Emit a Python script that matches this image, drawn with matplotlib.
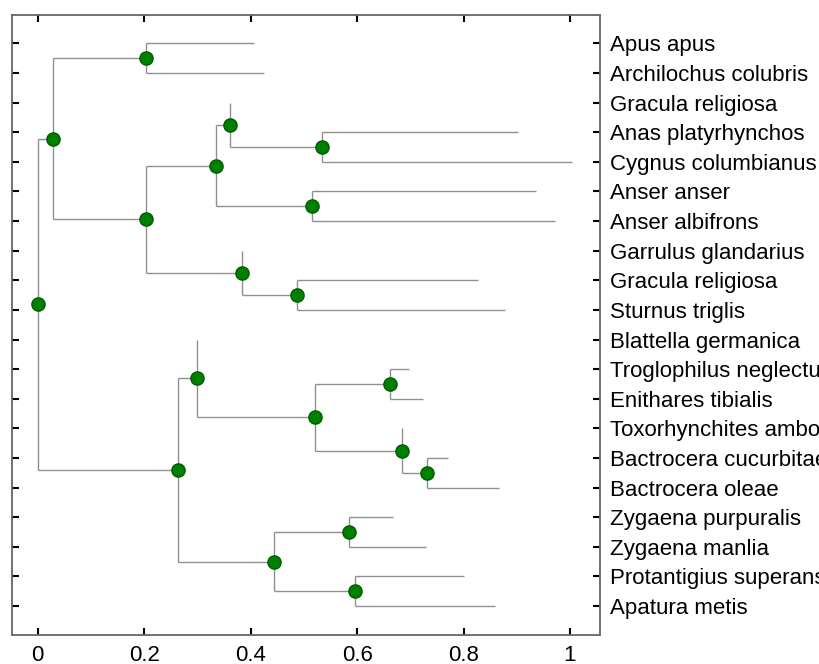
import matplotlib
matplotlib.use("Agg")
import matplotlib.pyplot as plt

plt.rcParams['font.family'] = ['Liberation Sans', 'DejaVu Sans']

# leaf names, top to bottom
labels = ["Apus apus", "Archilochus colubris", "Gracula religiosa",
          "Anas platyrhynchos", "Cygnus columbianus", "Anser anser",
          "Anser albifrons", "Garrulus glandarius", "Gracula religiosa",
          "Sturnus triglis", "Blattella germanica", "Troglophilus neglectus",
          "Enithares tibialis", "Toxorhynchites amboinensis",
          "Bactrocera cucurbitae", "Bactrocera oleae", "Zygaena purpuralis",
          "Zygaena manlia", "Protantigius superans", "Apatura metis"]

# distance at which each leaf branch ends
leaf_end = [0.406, 0.425, 0.362, 0.902, 1.004, 0.937, 0.972, 0.383, 0.828,
            0.878, 0.299, 0.698, 0.723, 0.685, 0.771, 0.867, 0.667, 0.729,
            0.800, 0.860]

# internal nodes (ids 20..38): height and the two children (leaf idx or node id)
node_height = [0.204, 0.534, 0.362, 0.516, 0.334, 0.488, 0.383, 0.204, 0.029,
               0.661, 0.731, 0.685, 0.520, 0.299, 0.585, 0.597, 0.443, 0.264,
               0.0]
node_left = [0, 3, 2, 5, 22, 8, 7, 24, 20, 11, 14, 13, 29, 10, 16, 18, 34, 33, 28]
node_right = [1, 4, 21, 6, 23, 9, 25, 26, 27, 12, 15, 30, 31, 32, 17, 19, 35, 36, 37]

n_leaf = len(labels)
xpos = {}
ypos = {}
for i in range(n_leaf):
    xpos[i] = leaf_end[i]
    ypos[i] = i + 1
for k in range(len(node_height)):
    nid = n_leaf + k
    xpos[nid] = node_height[k]
    ypos[nid] = (ypos[node_left[k]] + ypos[node_right[k]]) / 2.0

fig = plt.figure(figsize=(8.19, 6.64), dpi=100)
ax = fig.add_axes([0.0147, 0.0437, 0.7179, 0.9337])

line_kw = dict(color='#8f8f8f', lw=1.0, zorder=1, solid_capstyle='butt')
for k in range(len(node_height)):
    nid = n_leaf + k
    px = xpos[nid]
    a, b = node_left[k], node_right[k]
    # vertical connector
    ax.plot([px, px], [ypos[a], ypos[b]], **line_kw)
    # horizontal branches to the children
    for c in (a, b):
        ax.plot([px, xpos[c]], [ypos[c], ypos[c]], **line_kw)

# node markers
nx = [xpos[n_leaf + k] for k in range(len(node_height))]
ny = [ypos[n_leaf + k] for k in range(len(node_height))]
ax.plot(nx, ny, 'o', ms=9.5, mfc='#008000', mec='#005c00', mew=1.0, zorder=3,
        linestyle='none')

ax.set_xlim(-0.0483, 1.0564)
ax.set_ylim(20.98, 0.04)

ax.set_xticks([0, 0.2, 0.4, 0.6, 0.8, 1])
ax.set_xticklabels(['0', '0.2', '0.4', '0.6', '0.8', '1'])
ax.set_yticks(range(1, n_leaf + 1))
ax.set_yticklabels(labels)

ax.tick_params(axis='x', direction='in', top=True, bottom=True, length=5,
               width=1.5, color='black', labelsize=16, pad=7)
ax.tick_params(axis='y', direction='in', left=True, right=True, labelleft=False,
               labelright=True, length=5, width=1.5, color='black',
               labelsize=16, pad=7)

for s in ax.spines.values():
    s.set_color('#666666')
    s.set_linewidth(1.3)

fig.savefig("out.png", dpi=100)
